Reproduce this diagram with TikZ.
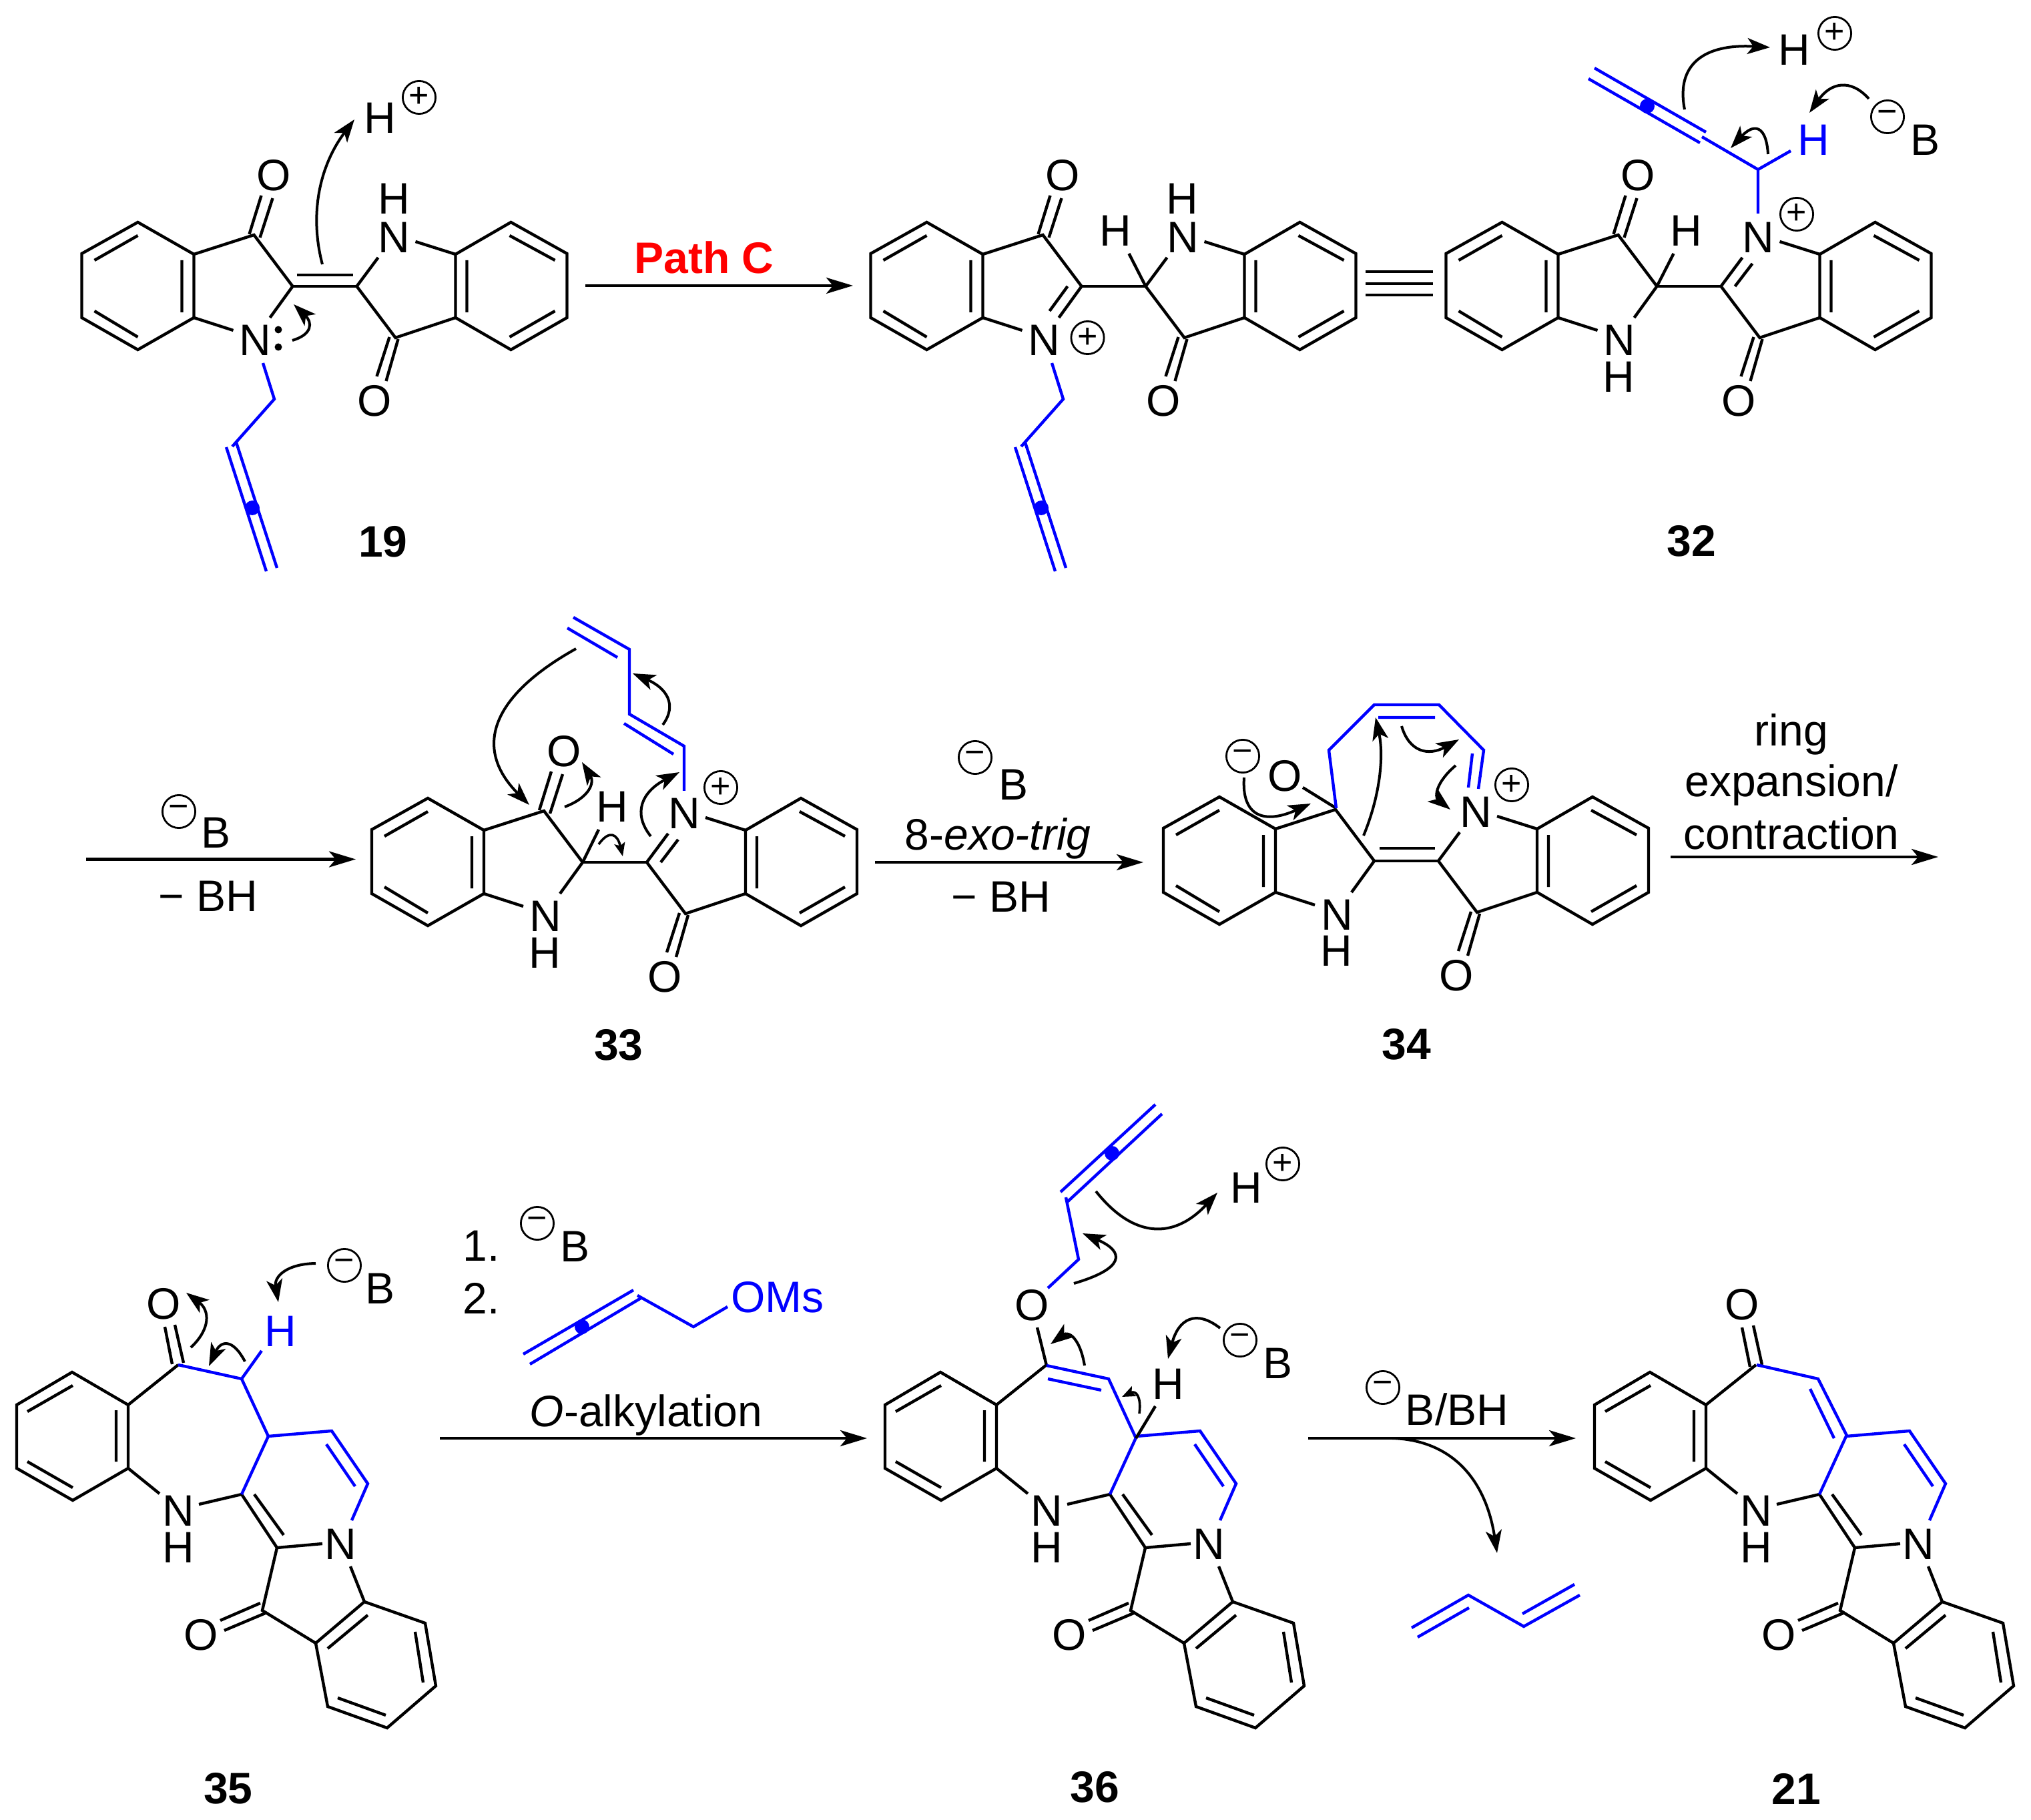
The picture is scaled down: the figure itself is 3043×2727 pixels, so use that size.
\documentclass[tikz,border=0pt]{standalone}
\usepackage{fontspec}
\setmainfont{Liberation Sans}
\usetikzlibrary{arrows.meta,calc}

\definecolor{chain}{RGB}{0,0,255}
\definecolor{pathred}{RGB}{255,0,0}

\tikzset{
  bond/.style={line width=1.1pt,line join=miter},
  bbond/.style={bond,chain},
  atom/.style={inner sep=0pt,font=\fontsize{16.5}{19}\selectfont},
  batom/.style={atom,text=chain},
  cpd/.style={inner sep=0pt,font=\fontsize{16.5}{19}\selectfont\bfseries},
  charge/.style={circle,draw,line width=.7pt,minimum size=12.3pt,inner sep=0pt,font=\fontsize{13}{13}\selectfont},
  rxn/.style={line width=1.1pt,-{Stealth[length=10pt,width=6pt,inset=2.5pt]}},
  curve/.style={line width=1pt,-{Stealth[length=8.5pt,width=6pt,inset=2.2pt]}},
  tinycurve/.style={line width=.9pt,-{Stealth[length=5pt,width=4pt,inset=1pt]}},
}

\newcommand{\curly}[4][curve]{\draw[#1] (#2) .. controls ($1.3333*(#3)-.3333*(#4)$) and ($1.3333*(#3)-.3333*(#2)$) .. (#4);}
\newcommand{\dotC}[1]{\fill[chain] (#1) circle (11);}

% two indolinones around the middle bond
\newcommand{\indigocore}{
  \draw[bond] (-196,-48) -- (-280,-96) -- (-364,-49) -- (-364,47) -- (-280,95) -- (-196,47) -- cycle;
  \draw[bond] (-345,-39) -- (-280,-76) (-345,37) -- (-280,76) (-214,-39) -- (-214,39);
  \draw[bond] (196,-48) -- (279,-96) -- (363,-49) -- (363,47) -- (279,95) -- (196,47) -- cycle;
  \draw[bond] (213,-39) -- (213,39) (277,-76) -- (345,-39) (345,37) -- (277,76);
  \draw[bond] (-196,-48) -- (-106,-77) -- (-48,0) -- (-82,47) (-196,47) -- (-137,66);
  \draw[bond] (196,47) -- (106,77) -- (48,0) -- (80,-43) (196,-48) -- (136,-67);
  \draw[bond] (-48,0) -- (48,0);
  \draw[bond] (110,79) -- (92,142) (97,76) -- (78,135);
  \node[atom] (o2) at (75,172) {O};
  \node[atom] (n1) at (-104,81) {N};
  \node[atom] (n2) at (104,-73) {N};
}
\newcommand{\topketone}{
  \draw[bond] (-113,-78) -- (-95,-136) (-97,-73) -- (-78,-132);
  \node[atom] (o1) at (-76,-166) {O};
}
\newcommand{\butyl}{
  \draw[bbond] (-92.5,115) -- (-75.5,169) -- (-138.5,240);
  \draw[bbond] (-147.5,241) -- (-87.5,427) (-132.5,234) -- (-71.5,422);
  \dotC{-108.5,332}
}

% tetracycle shared by 35, 36 and 21
\newcommand{\tetracycle}{
  \draw[bond] (192,2105) -- (108,2056) -- (25,2105) -- (25,2200) -- (109,2248) -- (192,2200) -- cycle;
  \draw[bond] (41,2115) -- (109,2076) (41,2190) -- (109,2229) (174,2113) -- (174,2190);
  \draw[bond] (192,2105) -- (267,2045) (192,2200) -- (239,2238);
  \draw[bond] (298,2254) -- (362,2239) -- (415,2319) -- (483,2313) (381,2239) -- (425,2300);
  \draw[bond] (525,2347) -- (546,2400) (415,2319) -- (393,2413) -- (473,2462);
  \draw[bond] (390,2402) -- (330,2428) (400,2416) -- (336,2443);
  \draw[bond] (546,2400) -- (637,2432) -- (653,2526) -- (580,2589) -- (491,2557) -- (473,2462) -- cycle;
  \draw[bond] (551,2420) -- (491,2470) (622,2445) -- (634,2521) (506,2544) -- (578,2570);
  \draw[bbond] (362,2239) -- (402,2152) -- (497,2144) -- (551,2223) -- (527,2278) (489,2164) -- (532,2227);
  \node[atom] (nh) at (267,2264) {N};
  \node[atom] (hn) at (267,2319) {H};
  \node[atom] (n) at (510,2314) {N};
  \node[atom] (o) at (301,2450) {O};
}

\begin{document}
\begin{tikzpicture}[x=.25pt,y=-.25pt]
\useasboundingbox (0,0) rectangle (3043,2727);

% 19
\begin{scope}[shift={(486.5,429)},name prefix=a-]
  \indigocore \topketone \butyl
  \draw[bond] (-42,-17) -- (42,-17);
  \node[atom] (h2) at (104,-131) {H};
  \fill (-69.5,65) circle (5.5) (-69.5,91) circle (5.5);
\end{scope}
\curly{483,396}{480,285}{531,179}
\curly[curve]{438,510}{461,490}{440,456}
\node[atom] (hp1) at (569,177) {H};
\node[charge] (hp1c) at (628,146) {+};
\node[cpd] (lab19) at (574,812) {19};

% path C
\coordinate (pathcL) at (877,428);
\coordinate (pathcR) at (1278,428);
\draw[rxn] (pathcL) -- (pathcR);
\node[cpd,text=pathred] (pathc) at (1055,386) {Path C};

% second form
\begin{scope}[shift={(1668.5,429)},name prefix=b-]
  \indigocore \topketone \butyl
  \draw[bond] (-69,0) -- (-96,37);
  \draw[bond] (48,0) -- (23,-49);
  \node[atom] (h1) at (3,-83) {H};
  \node[atom] (h2) at (103,-131) {H};
  \node[charge] (nc) at (-39,77) {+};
\end{scope}

% equals
\draw[bond] (2046,407) -- (2147,407) (2046,425) -- (2147,425) (2046,442) -- (2147,442);

% 32
\begin{scope}[shift={(2530.5,429)},name prefix=c-]
  \indigocore \topketone
  \draw[bond] (69,0) -- (95,-34);
  \draw[bond] (-48,0) -- (-23,-49);
  \node[atom] (h1) at (-4,-83) {H};
  \node[atom] (h2) at (-105,136) {H};
\end{scope}
\node[charge] (nc32) at (2692,321) {+};
\draw[bbond] (2634,320) -- (2634,254) -- (2683,226) (2634,254) -- (2550,205);
\draw[bbond] (2556,198) -- (2389,102) (2547,214) -- (2380,118);
\dotC{2468,159}
\node[batom] (hb32) at (2717,210) {H};
\curly{2524,164}{2546,90}{2652,71}
\curly{2800,148}{2757,130}{2711,169}
\curly{2649,231}{2633,196}{2593,222}
\node[atom] (hp32) at (2688,75) {H};
\node[charge] (hp32c) at (2749,50) {+};
\node[charge] (bm32c) at (2828,175) {−};
\node[atom] (bm32) at (2884,210) {B};
\node[cpd] (lab32) at (2534,811) {32};

% to 33
\coordinate (to33L) at (129,1287.5);
\coordinate (to33R) at (533,1287.5);
\draw[rxn] (to33L) -- (to33R);
\node[charge] (bm33c) at (268,1216) {−};
\node[atom] (bm33) at (324,1248) {B};
\node[atom] (bh33) at (312,1343) {− BH};

% 33
\begin{scope}[shift={(921,1292)},name prefix=d-]
  \indigocore \topketone
  \draw[bond] (69,0) -- (95,-34);
  \draw[bond] (-48,0) -- (-24,-49);
  \node[atom] (h1) at (-4,-83) {H};
  \node[atom] (h2) at (-105,136) {H};
\end{scope}
\node[charge] (nc33) at (1080,1180) {+};
\draw[bbond] (1025,1185) -- (1025,1118) -- (943,1070) -- (943,973) -- (859,925);
\draw[bbond] (935,1084) -- (1009,1130) (925,985) -- (850,941);
\curly{863,972}{748,1085}{793,1206}
\curly{846,1209}{880,1182}{872,1142}
\curly[tinycurve]{897,1265}{918,1253}{933,1283}
\curly{975,1253}{965,1203}{1018,1157}
\curly{993,1086}{998,1045}{948,1009}
\node[cpd] (lab33) at (927,1566) {33};

% to 34
\coordinate (to34L) at (1311,1292);
\coordinate (to34R) at (1713,1292);
\draw[rxn] (to34L) -- (to34R);
\node[charge] (bm34c) at (1461,1135) {−};
\node[atom] (bm34) at (1518,1176) {B};
\node[atom,anchor=base] (exo) at (1495,1273) {8-\textit{exo-trig}};
\node[atom] (bh34) at (1500,1344) {− BH};

% 34
\begin{scope}[shift={(2107,1290)},name prefix=e-]
  \indigocore
  \draw[bond] (-40,-19) -- (43,-19);
  \node[atom] (h2) at (-105,135) {H};
\end{scope}
\draw[bond] (1952,1180) -- (2002,1211);
\node[atom] (o34) at (1925,1163) {O};
\node[charge] (om34c) at (1862,1133) {−};
\draw[bbond] (2002,1211) -- (1991,1124) -- (2059,1056) -- (2156,1056) -- (2223,1124) -- (2215,1182);
\draw[bbond] (2065,1075) -- (2150,1075) (2206,1129) -- (2200,1180);
\node[charge] (nc34) at (2265,1176) {+};
\curly{1864,1165}{1886,1218}{1964,1204}
\curly{2043,1252}{2066,1163}{2061,1075}
\curly{2100,1088}{2130,1122}{2186,1108}
\curly{2181,1147}{2157,1182}{2173,1213}
\node[cpd] (lab34) at (2107,1565) {34};

% ring expansion
\coordinate (ringL) at (2503,1284);
\coordinate (ringR) at (2904,1284);
\draw[rxn] (ringL) -- (ringR);
\node[atom,anchor=base] (ring1) at (2684,1118) {ring};
\node[atom,anchor=base] (ring2) at (2684,1193) {expansion/};
\node[atom,anchor=base] (ring3) at (2684,1272) {contraction};

% 35
\begin{scope}[name prefix=f-]
  \tetracycle
\end{scope}
\draw[bond] (247,1988) -- (258,2044) (262,1985) -- (275,2042);
\node[atom] (o35) at (245,1954) {O};
\draw[bbond] (267,2045) -- (362,2066) -- (402,2152) (362,2066) -- (392,2024);
\node[batom] (hb35) at (420,1995) {H};
\curly{473,1893}{426,1908}{417,1951}
\curly{286,2019}{307,1977}{279,1937}
\curly{367,2040}{340,2016}{313,2047}
\node[charge] (bm35c) at (516,1896) {−};
\node[atom] (bm35) at (570,1931) {B};
\node[cpd] (lab35) at (342,2680) {35};

% reagents
\node[atom] (one) at (721,1867) {1.};
\node[atom] (two) at (721,1945) {2.};
\node[charge] (bmrc) at (805,1833) {−};
\node[atom] (bmr) at (862,1868) {B};
\draw[bbond] (949,1933) -- (784,2029) (962,1944) -- (794,2044);
\draw[bbond] (955,1941) -- (1039,1988) -- (1090,1958);
\dotC{872,1988}
\node[batom] (oms) at (1165,1944) {OMs};
\coordinate (to36L) at (659,2155);
\coordinate (to36R) at (1299,2155);
\draw[rxn] (to36L) -- (to36R);
\node[atom,anchor=base] (oalk) at (968,2137) {\textit{O}-alkylation};

% 36
\begin{scope}[shift={(1301,0)},name prefix=g-]
  \tetracycle
\end{scope}
\draw[bond] (1568,2046) -- (1554,1989);
\node[atom] (o36) at (1546,1956) {O};
\draw[bbond] (1570,1930) -- (1616,1887) -- (1597,1794);
\draw[bbond] (1589,1786) -- (1731,1655) (1599,1801) -- (1741,1669);
\dotC{1666,1728}
\draw[bbond] (1568,2046) -- (1661,2066) -- (1702,2155) (1570,2066) -- (1650,2083);
\draw[bond] (1702,2155) -- (1731,2107);
\node[atom] (h36) at (1750,2074) {H};
\curly{1642,1785}{1730,1839}{1824,1787}
\curly{1609,1923}{1668,1888}{1622,1848}
\curly{1625,2046}{1607,2007}{1574,2014}
\curly[tinycurve]{1707,2118}{1703,2092}{1681,2093}
\curly{1828,1990}{1781,1980}{1750,2036}
\node[atom] (hp36) at (1867,1780) {H};
\node[charge] (hp36c) at (1922,1744) {+};
\node[charge] (bm36c) at (1858,2008) {−};
\node[atom] (bm36) at (1914,2043) {B};
\node[cpd] (lab36) at (1640,2678) {36};

% to 21
\coordinate (to21L) at (1960,2155);
\coordinate (to21R) at (2361,2155);
\coordinate (lossS) at (2086,2155);
\coordinate (lossE) at (2243,2327);
\draw[rxn] (to21L) -- (to21R);
\curly{lossS}{2191,2200}{lossE}
\node[charge] (bm21c) at (2072,2079) {−};
\node[atom,anchor=base] (bbh) at (2183,2135) {B/BH};
\draw[bbond] (2115,2439) -- (2200,2390) -- (2283,2437) -- (2367,2390);
\draw[bbond] (2124,2453) -- (2201,2409) (2281,2418) -- (2359,2374);

% 21
\begin{scope}[shift={(2364,0)},name prefix=h-]
  \tetracycle
\end{scope}
\draw[bond] (2610,1989) -- (2622,2048) (2627,1986) -- (2640,2045);
\node[atom] (o21) at (2610,1955) {O};
\draw[bbond] (2632,2045) -- (2724,2066) -- (2768,2153) (2712,2081) -- (2748,2155);
\node[cpd] (lab21) at (2691,2680) {21};
\end{tikzpicture}
\end{document}
